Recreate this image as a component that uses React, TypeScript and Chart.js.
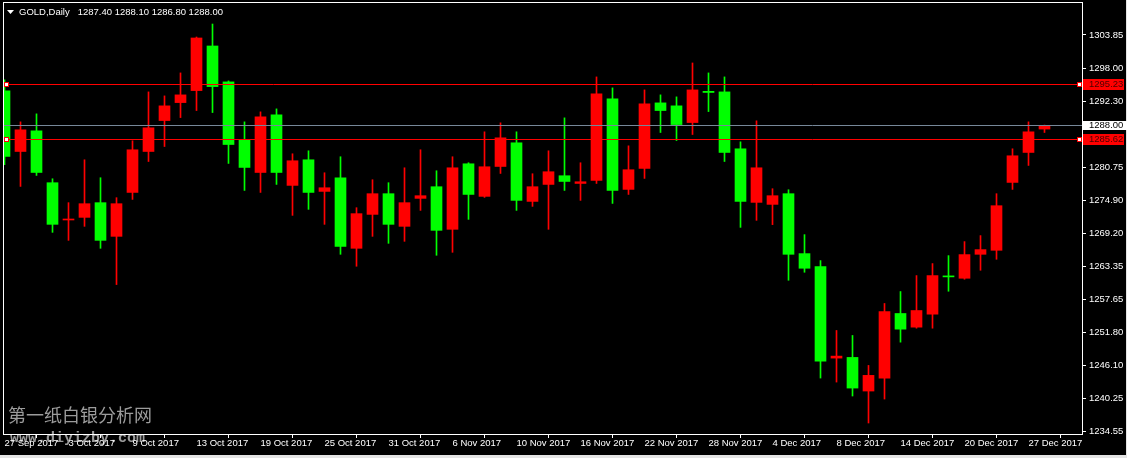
import React, { useEffect, useRef } from "react";
import { Chart, registerables } from "chart.js";
Chart.register(...registerables);

const symbol = "GOLD,Daily";

const dates = [
  "27 Sep 2017", "28 Sep 2017", "29 Sep 2017", "2 Oct 2017", "3 Oct 2017", "4 Oct 2017", "5 Oct 2017", "6 Oct 2017",
  "9 Oct 2017", "10 Oct 2017", "11 Oct 2017", "12 Oct 2017", "13 Oct 2017", "16 Oct 2017", "17 Oct 2017", "18 Oct 2017",
  "19 Oct 2017", "20 Oct 2017", "23 Oct 2017", "24 Oct 2017", "25 Oct 2017", "26 Oct 2017", "27 Oct 2017", "30 Oct 2017",
  "31 Oct 2017", "1 Nov 2017", "2 Nov 2017", "3 Nov 2017", "6 Nov 2017", "7 Nov 2017", "8 Nov 2017", "9 Nov 2017",
  "10 Nov 2017", "13 Nov 2017", "14 Nov 2017", "15 Nov 2017", "16 Nov 2017", "17 Nov 2017", "20 Nov 2017", "21 Nov 2017",
  "22 Nov 2017", "23 Nov 2017", "24 Nov 2017", "27 Nov 2017", "28 Nov 2017", "29 Nov 2017", "30 Nov 2017", "1 Dec 2017",
  "4 Dec 2017", "5 Dec 2017", "6 Dec 2017", "7 Dec 2017", "8 Dec 2017", "11 Dec 2017", "12 Dec 2017", "13 Dec 2017",
  "14 Dec 2017", "15 Dec 2017", "18 Dec 2017", "19 Dec 2017", "20 Dec 2017", "21 Dec 2017", "22 Dec 2017", "26 Dec 2017",
  "27 Dec 2017", "28 Dec 2017",
];

const opens = [
  1294.08, 1283.48, 1287.09, 1278.02, 1271.50, 1271.96, 1274.53, 1268.64, 1276.32, 1283.48,
  1288.89, 1292.03, 1294.13, 1301.93, 1295.65, 1285.52, 1279.81, 1289.89, 1277.55, 1282.03,
  1276.50, 1278.89, 1266.55, 1272.48, 1276.10, 1270.39, 1275.28, 1277.32, 1269.87, 1281.33,
  1275.63, 1280.86, 1285.00, 1274.75, 1277.72, 1279.24, 1277.89, 1278.42, 1292.68, 1276.85,
  1280.51, 1291.98, 1291.46, 1288.54, 1294.00, 1293.90, 1283.95, 1274.58, 1274.23, 1276.10,
  1265.62, 1263.35, 1247.35, 1247.47, 1241.59, 1243.86, 1255.15, 1252.76, 1255.03, 1261.70,
  1261.31, 1265.50, 1266.20, 1278.07, 1283.31, 1287.40,
];
const highs = [
  1296.00, 1288.66, 1290.06, 1278.71, 1274.53, 1282.03, 1278.89, 1275.40, 1285.35, 1293.90,
  1293.20, 1297.22, 1303.50, 1305.77, 1295.82, 1288.66, 1290.41, 1290.93, 1283.08, 1283.60,
  1279.76, 1282.56, 1273.65, 1278.54, 1278.02, 1280.63, 1283.78, 1280.11, 1282.56, 1281.51,
  1286.92, 1288.49, 1286.92, 1279.59, 1283.60, 1289.36, 1281.51, 1296.52, 1294.60, 1284.47,
  1294.25, 1293.38, 1293.03, 1298.96, 1297.22, 1296.52, 1285.17, 1288.84, 1276.97, 1276.79,
  1268.94, 1264.40, 1252.18, 1251.31, 1246.07, 1256.90, 1258.99, 1261.78, 1263.88, 1265.27,
  1267.72, 1268.77, 1276.10, 1283.95, 1288.66, 1288.10,
];
const lows = [
  1281.16, 1277.37, 1279.29, 1269.34, 1267.94, 1270.39, 1266.55, 1260.21, 1275.10, 1281.73,
  1284.35, 1289.41, 1290.64, 1290.29, 1281.39, 1276.67, 1276.32, 1277.72, 1272.31, 1273.36,
  1270.74, 1265.50, 1263.41, 1268.64, 1267.42, 1267.77, 1273.18, 1265.33, 1265.85, 1271.61,
  1275.45, 1279.64, 1273.18, 1273.88, 1269.87, 1276.67, 1274.93, 1277.89, 1274.40, 1275.97,
  1278.77, 1286.80, 1285.40, 1286.45, 1290.46, 1281.73, 1270.21, 1271.44, 1270.69, 1260.96,
  1262.36, 1243.86, 1243.16, 1240.72, 1236.00, 1240.19, 1250.14, 1252.58, 1252.58, 1259.04,
  1261.14, 1262.71, 1264.63, 1276.85, 1281.04, 1286.80,
];
const closes = [
  1282.61, 1287.27, 1279.81, 1270.74, 1271.56, 1274.35, 1267.94, 1274.35, 1283.78, 1287.62,
  1291.46, 1293.38, 1303.33, 1294.83, 1284.70, 1280.69, 1289.54, 1279.81, 1281.86, 1276.32,
  1277.14, 1266.90, 1272.61, 1276.10, 1270.74, 1274.53, 1275.75, 1269.69, 1280.63, 1275.97,
  1280.81, 1285.87, 1274.93, 1277.32, 1279.94, 1278.24, 1278.19, 1293.55, 1276.67, 1280.29,
  1291.81, 1290.64, 1288.19, 1294.25, 1293.80, 1283.31, 1274.75, 1280.63, 1275.75, 1265.50,
  1263.06, 1246.82, 1247.70, 1242.11, 1244.33, 1255.50, 1252.41, 1255.67, 1261.78, 1261.55,
  1265.45, 1266.32, 1274.00, 1282.73, 1286.92, 1288.00,
];

const yTickValues = [1234.55, 1240.25, 1246.10, 1251.80, 1257.65, 1263.35, 1269.20, 1274.90, 1280.75, 1292.30, 1298.00, 1303.85];
const xLabelEvery = 4;
const levelLines = [1295.23, 1285.62];
const bidPrice = 1288.0;
const watermarkCn = "第一纸白银分析网";
const watermarkUrl = "www.diyizby.com";

const UP = "#ff0000";
const DOWN = "#00ff00";
const FONT = "'Liberation Sans', Arial, sans-serif";
const FSIZE = 9.5;

export default function App() {
  const ref = useRef<HTMLCanvasElement | null>(null);

  useEffect(() => {
    document.body.style.margin = "0";
    document.body.style.background = "#000";
    const canvas = ref.current;
    if (!canvas) return;

    const idx = dates.map((_, i) => i);
    const colors = idx.map((i) => (closes[i] >= opens[i] ? UP : DOWN));
    const xTicks = idx.filter((i) => i % xLabelEvery === 0);

    const plugin = {
      id: "mt4",
      beforeDraw(chart: any) {
        const { ctx, width, height } = chart;
        ctx.save();
        ctx.fillStyle = "#000";
        ctx.fillRect(0, 0, width, height);
        ctx.fillStyle = "#e4e4e4";
        ctx.fillRect(0, 455, width, 3);
        ctx.fillRect(1126, 0, 1, height);
        ctx.fillStyle = "#9c9c9c";
        ctx.textAlign = "left";
        ctx.textBaseline = "middle";
        ctx.font = "18px 'Noto Sans CJK SC'";
        ctx.fillText(watermarkCn, 8, 415);
        ctx.textBaseline = "alphabetic";
        ctx.font = "bold 15px 'Liberation Mono'";
        ctx.fillText(watermarkUrl, 10, 442);
        ctx.restore();
      },
      afterDatasetsDraw(chart: any) {
        const { ctx, chartArea: a, scales } = chart;
        const y = scales.y;
        ctx.save();
        ctx.lineWidth = 1;
        const by = Math.floor(y.getPixelForValue(bidPrice)) + 0.5;
        ctx.strokeStyle = "#778899";
        ctx.beginPath();
        ctx.moveTo(a.left, by);
        ctx.lineTo(a.right, by);
        ctx.stroke();
        levelLines.forEach((v) => {
          const py = Math.floor(y.getPixelForValue(v)) + 0.5;
          ctx.strokeStyle = "#ff0000";
          ctx.beginPath();
          ctx.moveTo(a.left, py);
          ctx.lineTo(a.right, py);
          ctx.stroke();
          [a.left, a.right - 5].forEach((x0: number) => {
            ctx.fillStyle = "#ffffff";
            ctx.fillRect(x0, py - 2.5, 5, 5);
            ctx.strokeStyle = "#ff0000";
            ctx.strokeRect(x0 + 0.5, py - 2, 4, 4);
          });
        });
        ctx.restore();
      },
      afterDraw(chart: any) {
        const { ctx, scales } = chart;
        const y = scales.y;
        ctx.save();
        // frame
        ctx.fillStyle = "#ffffff";
        ctx.fillRect(3, 2, 1080, 1);
        ctx.fillRect(3, 2, 1, 433);
        ctx.fillRect(1082, 2, 1, 433);
        ctx.fillRect(3, 434, 1080, 1);
        ctx.font = FSIZE + "px " + FONT;
        ctx.textAlign = "left";
        ctx.textBaseline = "middle";
        // price labels
        levelLines.forEach((v) => {
          const py = Math.floor(y.getPixelForValue(v));
          ctx.fillStyle = "#ff0000";
          ctx.fillRect(1083, py - 5, 41, 11);
          ctx.fillStyle = "#4a0000";
          ctx.fillText(v.toFixed(2), 1089, py + 0.5);
        });
        const by = Math.floor(y.getPixelForValue(bidPrice));
        ctx.fillStyle = "#ffffff";
        ctx.fillRect(1083, by - 4, 44, 9);
        ctx.fillStyle = "#000000";
        ctx.fillText(bidPrice.toFixed(2), 1089, by + 0.5);
        // header
        ctx.fillStyle = "#ffffff";
        ctx.beginPath();
        ctx.moveTo(7, 10);
        ctx.lineTo(14, 10);
        ctx.lineTo(10.5, 14);
        ctx.closePath();
        ctx.fill();
        const last = dates.length - 1;
        ctx.fillText(symbol, 19, 12);
        const sw = ctx.measureText(symbol).width;
        ctx.fillText(
          [opens[last], highs[last], lows[last], closes[last]].map((v) => v.toFixed(2)).join(" "),
          19 + sw + 8,
          12
        );
        ctx.restore();
      },
    };

    const chart = new Chart(canvas, {
      type: "bar",
      data: {
        datasets: [
          {
            label: "body",
            data: idx.map((i) => ({ x: i, y: [opens[i], closes[i]] })) as any,
            backgroundColor: colors,
            borderWidth: 0,
            barThickness: 11,
            minBarLength: 1,
            grouped: false,
            order: 0,
          } as any,
          {
            label: "wick",
            data: idx.map((i) => ({ x: i, y: [lows[i], highs[i]] })) as any,
            backgroundColor: colors,
            borderWidth: 0,
            barThickness: 1,
            grouped: false,
            order: 1,
          } as any,
        ],
      },
      options: {
        animation: false,
        responsive: false,
        devicePixelRatio: 1,
        layout: { padding: { left: 4, top: 3, right: 0, bottom: 0 } },
        plugins: { legend: { display: false }, tooltip: { enabled: false } },
        scales: {
          x: {
            type: "linear",
            position: "bottom",
            offset: false,
            min: -0.03125,
            max: 67.34375,
            afterBuildTicks: (ax: any) => {
              ax.ticks = xTicks.map((v) => ({ value: v }));
            },
            afterFit: (ax: any) => {
              ax.height = 24;
              ax.paddingLeft = 0;
              ax.paddingRight = 0;
            },
            grid: { display: true, drawOnChartArea: false, drawTicks: true, tickLength: 4, tickColor: "#ffffff", color: "#ffffff" },
            border: { display: false },
            ticks: {
              autoSkip: false,
              maxRotation: 0,
              minRotation: 0,
              align: "start",
              padding: 0.5,
              color: "#ffffff",
              font: { family: FONT, size: FSIZE, lineHeight: 1 },
              callback: (v: any) => dates[Math.round(Number(v))] ?? "",
            },
          } as any,
          y: {
            type: "linear",
            position: "right",
            min: 1234.078,
            max: 1309.445,
            afterBuildTicks: (ax: any) => {
              ax.ticks = yTickValues.map((v) => ({ value: v }));
            },
            afterFit: (ax: any) => {
              ax.width = 45;
              ax.paddingTop = 0;
              ax.paddingBottom = 0;
            },
            grid: { display: true, drawOnChartArea: false, drawTicks: true, tickLength: 4, tickColor: "#ffffff", color: "#ffffff" },
            border: { display: false },
            ticks: {
              autoSkip: false,
              padding: 3,
              color: "#ffffff",
              font: { family: FONT, size: FSIZE, lineHeight: 1 },
              callback: (v: any) => Number(v).toFixed(2),
            },
          } as any,
        },
      },
      plugins: [plugin],
    });
    return () => chart.destroy();
  }, []);

  return <canvas ref={ref} width={1127} height={458} style={{ display: "block", width: 1127, height: 458 }} />;
}
